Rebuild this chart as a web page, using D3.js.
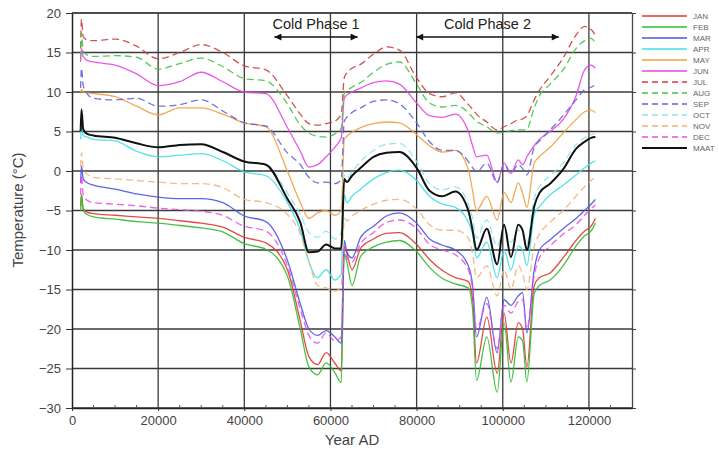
<!DOCTYPE html>
<html>
<head>
<meta charset="utf-8">
<script src="https://cdn.jsdelivr.net/npm/d3@7"></script>
<style>
  html, body { margin: 0; padding: 0; background: #fff; }
  svg { display: block; }
  text { font-family: "Liberation Sans", Arial, Helvetica, sans-serif; }
</style>
</head>
<body>
<svg id="chart" width="719" height="452"></svg>
<script>
// ---------------- DATA ----------------
const years = [2000, 2200, 2600, 3500, 5000, 10000, 15000, 20000, 25000, 30000, 35000, 40000, 45000,
  50000, 53000, 55000, 57000, 59000, 61000, 62500, 63200, 63800, 65000, 67000, 70000, 73000, 76000,
  80000, 83000, 86000, 89000, 92000, 93000, 93900, 96300, 98700, 100300, 101900, 103600, 104600,
  105600, 107300, 108500, 111000, 114000, 117000, 119000, 120500, 121500];

const JAN = [-4.5, -3.0, -4.8, -5.2, -5.4, -5.6, -5.8, -6.0, -6.3, -6.6, -7.1, -8.4, -9.1,
  -12.5, -19.0, -23.5, -24.5, -23.0, -24.3, -25.3, -9.6, -10.4, -12.5, -9.8, -8.6, -7.9, -7.8,
  -9.3, -11.2, -12.6, -13.5, -14.0, -16.3, -24.3, -18.5, -25.6, -18.0, -24.3, -19.2, -20.0,
  -24.8, -14.5, -13.5, -12.9, -11.0, -8.8, -7.6, -7.0, -6.0];
const FEB = [-5.0, -3.0, -5.0, -5.5, -5.8, -6.1, -6.4, -6.6, -6.9, -7.2, -7.7, -9.2, -9.9,
  -13.3, -20.0, -24.8, -25.8, -24.3, -25.5, -26.8, -10.5, -11.5, -14.5, -10.8, -9.6, -9.0, -8.8,
  -10.2, -12.2, -13.6, -14.3, -14.8, -17.5, -26.5, -21.0, -28.0, -19.2, -26.7, -21.0, -21.5,
  -26.7, -15.5, -14.5, -13.8, -12.0, -9.5, -8.2, -7.6, -6.6];
const MAR = [-1.5, 0.6, -1.0, -1.5, -1.8, -2.3, -2.9, -3.3, -3.5, -3.5, -4.0, -5.7, -6.4,
  -11.3, -16.8, -20.0, -20.8, -20.2, -21.0, -21.8, -8.8, -10.2, -11.0, -8.4, -7.0, -5.7, -5.3,
  -6.6, -8.6, -9.4, -10.0, -12.0, -14.5, -21.0, -16.0, -23.0, -16.3, -17.0, -15.8, -15.4,
  -20.5, -12.5, -10.0, -8.7, -7.3, -6.0, -5.0, -4.2, -3.6];
const APR = [4.0, 5.5, 4.5, 4.3, 4.0, 3.8, 2.5, 1.8, 2.0, 2.2, 1.3, -0.1, -0.6,
  -4.0, -7.5, -11.5, -13.5, -12.5, -13.8, -13.0, -3.0, -4.0, -3.2, -2.3, -1.0, -0.2, 0.1,
  -1.2, -3.2, -4.2, -4.6, -6.5, -8.0, -11.0, -9.0, -13.5, -10.0, -12.5, -9.5, -10.0,
  -12.0, -5.5, -4.5, -3.0, -1.8, -0.5, 0.4, 1.0, 1.3];
const MAY = [9.8, 10.3, 10.0, 9.9, 9.8, 9.4, 8.2, 7.1, 8.0, 8.0, 7.2, 6.1, 5.6,
  0.0, -4.0, -6.0, -5.3, -5.0, -5.6, -5.0, 4.0, 4.4, 4.9, 5.5, 6.0, 6.2, 6.1,
  4.6, 3.2, 2.4, 2.6, 0.2, -2.5, -5.0, -3.2, -6.2, -2.7, -4.0, -1.5, -2.8,
  -4.6, 1.0, 1.8, 3.0, 4.8, 6.5, 7.5, 7.7, 7.4];
const JUN = [13.8, 15.5, 14.5, 14.0, 13.8, 13.4, 12.3, 10.8, 11.3, 12.5, 11.3, 10.0, 9.8,
  5.5, 2.5, 0.5, 0.8, 1.8, 3.0, 4.2, 9.2, 9.6, 10.0, 10.5, 11.2, 11.4, 11.0,
  8.6, 7.0, 6.8, 7.2, 5.0, 3.2, 1.8, 2.0, -1.4, 1.0, -0.3, 1.4, 0.8,
  1.8, 3.2, 4.0, 5.0, 6.5, 9.5, 12.8, 13.4, 13.0];
const JUL = [15.5, 19.2, 17.0, 16.6, 16.5, 16.7, 15.8, 14.2, 15.0, 16.0, 15.0, 13.3, 12.8,
  9.5, 7.2, 6.0, 5.8, 6.0, 6.3, 7.2, 11.8, 12.4, 13.0, 13.5, 14.8, 15.7, 15.3,
  11.8, 9.8, 9.4, 9.9, 8.4, 7.8, 7.2, 6.2, 5.2, 5.6, 6.0, 6.5, 6.6,
  7.0, 9.0, 10.2, 12.0, 14.3, 17.2, 18.3, 17.9, 17.2];
const AUG = [14.2, 17.5, 15.2, 14.7, 14.5, 14.6, 14.4, 12.9, 13.6, 14.3, 13.2, 11.7, 11.4,
  8.5, 5.8, 4.8, 4.4, 4.3, 4.7, 5.4, 9.8, 10.2, 10.6, 11.2, 12.5, 13.5, 13.8,
  11.0, 8.6, 8.1, 8.3, 7.4, 6.8, 6.3, 5.6, 4.8, 4.9, 5.1, 5.2, 5.2,
  5.3, 8.0, 9.5, 11.0, 12.8, 15.5, 16.5, 16.8, 16.2];
const SEP = [10.5, 13.0, 10.8, 9.8, 9.2, 9.0, 9.2, 8.2, 8.4, 9.0, 7.6, 6.1, 5.7,
  2.3, 0.8, -0.8, -1.5, -1.4, -1.6, -1.1, 6.3, 6.8, 7.4, 8.0, 8.8, 9.0, 8.5,
  6.1, 3.7, 2.6, 2.6, 1.2, 0.4, -0.1, 1.0, -1.5, 0.8, -0.3, 0.8, 0.3,
  -0.5, 3.0, 3.8, 5.2, 7.0, 9.0, 10.3, 10.6, 10.9];
const OCT = [4.4, 6.0, 5.0, 4.7, 4.5, 4.2, 3.5, 3.0, 3.2, 3.4, 2.5, 1.2, 0.8,
  -2.8, -5.5, -7.8, -8.4, -7.6, -8.6, -7.8, -0.5, -0.9, -0.1, 1.2, 2.6, 3.4, 3.5,
  1.2, -1.6, -2.4, -2.0, -4.2, -6.0, -8.5, -6.2, -9.5, -7.2, -9.0, -7.5, -8.0,
  -9.2, -3.5, -2.0, -0.6, 1.0, 3.3, 4.2, 4.6, 4.7];
const NOV = [0.5, 2.3, 0.3, -0.4, -0.8, -1.0, -1.2, -1.4, -1.6, -1.6, -2.1, -3.6, -4.0,
  -5.5, -8.0, -11.5, -14.5, -14.8, -15.2, -14.7, -6.0, -6.3, -5.7, -5.0, -4.2, -3.7, -3.6,
  -4.8, -6.8, -7.5, -7.5, -8.5, -10.5, -13.5, -12.0, -15.8, -12.5, -15.0, -12.0, -13.0,
  -15.0, -9.5, -8.0, -6.5, -5.0, -3.2, -2.0, -1.2, -0.8];
const DEC = [-3.0, -0.5, -3.0, -3.7, -4.0, -4.2, -4.4, -4.7, -4.9, -5.1, -5.6, -7.0, -7.6,
  -12.0, -17.5, -20.8, -21.8, -20.5, -21.5, -21.0, -9.8, -11.0, -11.5, -9.2, -7.8, -6.5, -6.2,
  -7.3, -9.3, -10.0, -10.6, -12.5, -15.0, -20.0, -16.8, -22.5, -17.0, -18.0, -16.5, -16.3,
  -20.0, -13.2, -11.0, -9.5, -8.0, -6.8, -5.6, -4.8, -4.3];
const MAAT = [5.0, 7.8, 5.3, 4.7, 4.5, 4.2, 3.5, 3.0, 3.3, 3.4, 2.4, 1.2, 0.8,
  -3.5, -6.5, -10.3, -10.2, -9.3, -9.8, -9.8, -1.0, -1.4, -0.6, 0.4, 1.8, 2.3, 2.4,
  0.4, -2.5, -3.2, -2.6, -5.0, -7.5, -10.0, -7.3, -11.8, -6.8, -10.9, -6.8, -7.5,
  -10.0, -4.5, -2.8, -1.6, 0.2, 2.8, 3.7, 4.2, 4.3];

const xTicks = [0, 20000, 40000, 60000, 80000, 100000, 120000];
const yTicks = [20, 15, 10, 5, 0, -5, -10, -15, -20, -25, -30];
const phaseLabels = ["Cold Phase 1", "Cold Phase 2"];
const phaseStart = [47000, 79900];
const phaseEnd = [66300, 113000];

// ---------------- STYLE ----------------
const seriesDefs = [
  { name: "JAN", values: JAN, color: "#dd3a30", dash: null },
  { name: "FEB", values: FEB, color: "#33bb33", dash: null },
  { name: "MAR", values: MAR, color: "#4b55e6", dash: null },
  { name: "APR", values: APR, color: "#3fe0e6", dash: null },
  { name: "MAY", values: MAY, color: "#f0a040", dash: null },
  { name: "JUN", values: JUN, color: "#e446e4", dash: null },
  { name: "JUL", values: JUL, color: "#cc4040", dash: "7,4" },
  { name: "AUG", values: AUG, color: "#44c444", dash: "7,4" },
  { name: "SEP", values: SEP, color: "#5f64dd", dash: "7,4" },
  { name: "OCT", values: OCT, color: "#8ae6ea", dash: "7,4" },
  { name: "NOV", values: NOV, color: "#f2b27a", dash: "7,4" },
  { name: "DEC", values: DEC, color: "#e850e0", dash: "7,4" },
  { name: "MAAT", values: MAAT, color: "#111111", dash: null }
];

const svg = d3.select("#chart");
const pLeft = 72, pRight = 632, pTop = 13, pBottom = 408;

const x = d3.scaleLinear().domain([0, 130000]).range([pLeft, pRight]);
const y = d3.scaleLinear().domain([-30, 20]).range([pBottom, pTop]);

// grid
const grid = svg.append("g");
grid.selectAll("line.h").data(yTicks).enter().append("line")
  .attr("x1", pLeft).attr("x2", pRight)
  .attr("y1", d => y(d)).attr("y2", d => y(d))
  .attr("stroke", "#3a3a3a").attr("stroke-width", 1.3);
grid.selectAll("line.v").data(xTicks.filter(d => d > 0)).enter().append("line")
  .attr("x1", d => x(d)).attr("x2", d => x(d))
  .attr("y1", pTop).attr("y2", pBottom)
  .attr("stroke", "#3a3a3a").attr("stroke-width", 1.3);

// axes
const yAxis = d3.axisLeft(y).tickValues(yTicks).tickSize(6).tickSizeOuter(0).tickFormat(d3.format("d"));
const gy = svg.append("g").attr("transform", `translate(${pLeft},0)`).call(yAxis);
gy.select(".domain").attr("stroke", "#222").attr("stroke-width", 1.5);
gy.selectAll(".tick line").attr("stroke", "#333");
gy.selectAll(".tick text").attr("font-size", 13).attr("fill", "#444")
  .attr("font-family", "Liberation Sans, Arial, sans-serif").attr("x", -11);

const yAxisR = d3.axisRight(y).tickValues(yTicks).tickSize(4).tickSizeOuter(0).tickFormat("");
const gyr = svg.append("g").attr("transform", `translate(${pRight},0)`).call(yAxisR);
gyr.select(".domain").attr("stroke", "#444").attr("stroke-width", 1.3);
gyr.selectAll(".tick line").attr("stroke", "#444");

const xAxis = d3.axisBottom(x).tickValues(xTicks).tickSize(3).tickSizeOuter(0).tickFormat(d3.format("d"));
const gx = svg.append("g").attr("transform", `translate(0,${pBottom})`).call(xAxis);
gx.select(".domain").attr("stroke", "#222").attr("stroke-width", 1.5);
gx.selectAll(".tick line").attr("stroke", "#333");
gx.selectAll(".tick text").attr("font-size", 13).attr("fill", "#444")
  .attr("font-family", "Liberation Sans, Arial, sans-serif").attr("y", 8);

const minorX = d3.range(5000, 130000, 5000).filter(d => d % 20000 !== 0);
svg.append("g").selectAll("line").data(minorX).enter().append("line")
  .attr("x1", d => x(d)).attr("x2", d => x(d))
  .attr("y1", pBottom - 3).attr("y2", pBottom)
  .attr("stroke", "#555").attr("stroke-width", 1);

// top frame
svg.append("line").attr("x1", pLeft).attr("x2", pRight).attr("y1", pTop).attr("y2", pTop)
  .attr("stroke", "#444").attr("stroke-width", 1.3);

// axis titles
svg.append("text").attr("x", 352).attr("y", 445).attr("text-anchor", "middle")
  .attr("font-size", 15).attr("fill", "#444").text("Year AD");
svg.append("text").attr("transform", "translate(23,210) rotate(-90)").attr("text-anchor", "middle")
  .attr("font-size", 15).attr("fill", "#444").text("Temperature (°C)");

// series
const line = d3.line().curve(d3.curveMonotoneX).x((d, i) => x(years[i])).y(d => y(d));
const gl = svg.append("g");
seriesDefs.forEach(s => {
  gl.append("path").datum(s.values)
    .attr("d", line)
    .attr("fill", "none")
    .attr("stroke", s.color)
    .attr("stroke-width", s.name === "MAAT" ? 2 : 1.3)
    .attr("stroke-dasharray", s.dash)
    .attr("stroke-linejoin", "round")
    .attr("opacity", s.name === "MAAT" ? 1 : 0.9);
});

// annotations
const defs = svg.append("defs");
defs.append("marker").attr("id", "ah").attr("viewBox", "0 0 10 10")
  .attr("refX", 10).attr("refY", 5).attr("markerWidth", 11).attr("markerHeight", 7)
  .attr("markerUnits", "userSpaceOnUse").attr("orient", "auto-start-reverse")
  .append("path").attr("d", "M0,0 L10,5 L0,10 z").attr("fill", "#111");

const ann = svg.append("g");
phaseLabels.forEach((lab, i) => {
  ann.append("line")
    .attr("x1", x(phaseStart[i])).attr("x2", x(phaseEnd[i]))
    .attr("y1", 37).attr("y2", 37)
    .attr("stroke", "#111").attr("stroke-width", 1.4)
    .attr("marker-start", "url(#ah)").attr("marker-end", "url(#ah)");
  ann.append("text")
    .attr("x", (x(phaseStart[i]) + x(phaseEnd[i])) / 2).attr("y", 29)
    .attr("text-anchor", "middle").attr("font-size", 14.5).attr("fill", "#222")
    .text(lab);
});

// legend
const lg = svg.append("g");
seriesDefs.forEach((s, i) => {
  const yy = 16 + i * 11;
  lg.append("line").attr("x1", 642).attr("x2", 687).attr("y1", yy).attr("y2", yy)
    .attr("stroke", s.color).attr("stroke-width", s.name === "MAAT" ? 2 : 1.3)
    .attr("stroke-dasharray", s.dash ? "6,4" : null);
  lg.append("text").attr("x", 693).attr("y", yy + 3)
    .attr("font-size", 8).attr("fill", "#666")
    .attr("font-family", "DejaVu Sans Mono, Liberation Mono, monospace")
    .text(s.name);
});
</script>
</body>
</html>
